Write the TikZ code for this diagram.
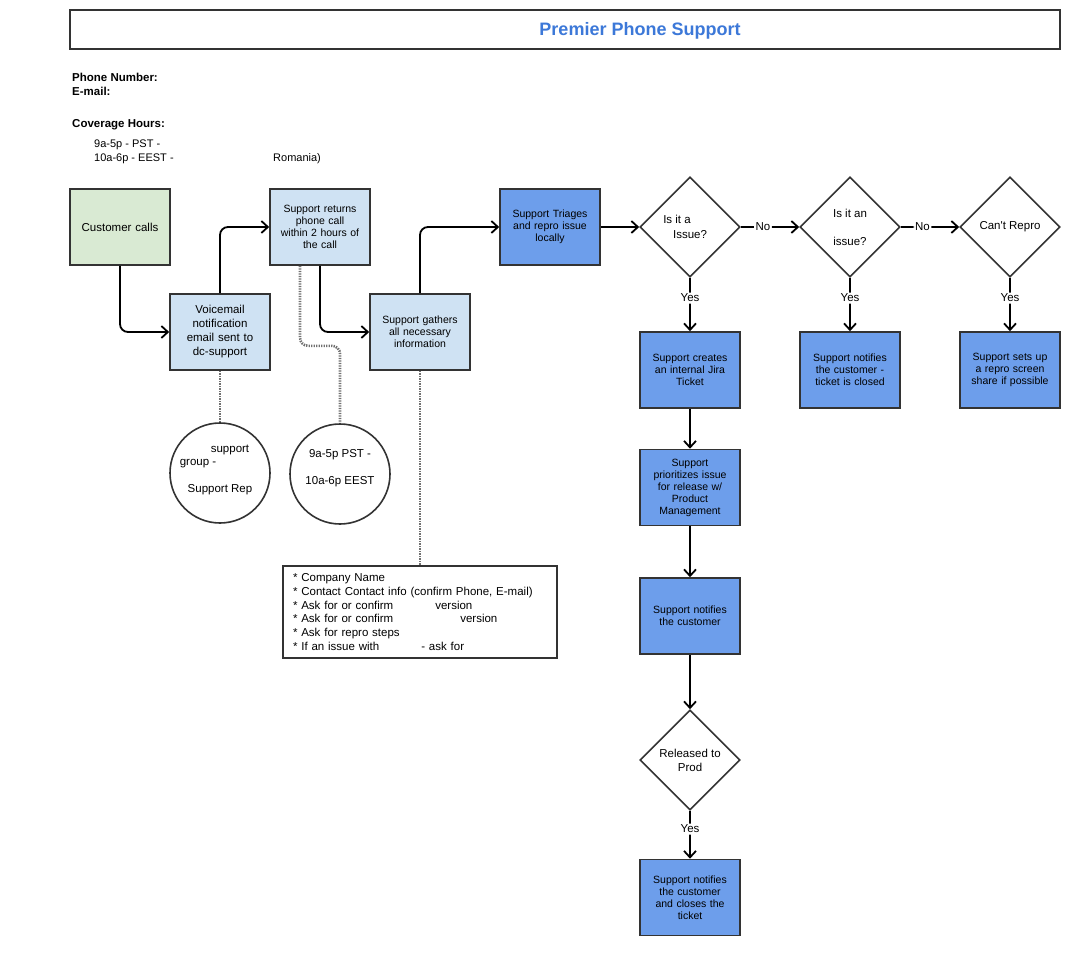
\documentclass[tikz,border=0pt]{standalone}
\usepackage{fontspec}
\setmainfont{Liberation Sans}
\usetikzlibrary{arrows.meta,shapes.geometric}

\definecolor{edge}{HTML}{333333}
\definecolor{startgreen}{HTML}{D9EAD3}
\definecolor{paleblue}{HTML}{CFE2F3}
\definecolor{midblue}{HTML}{6D9EEB}
\definecolor{titleblue}{HTML}{3C78D8}
\definecolor{noteline}{HTML}{707070}

\tikzset{
  box/.style={rectangle, draw=edge, line width=1.6pt, minimum width=100pt,
    minimum height=76pt, inner sep=2pt, text width=94pt, align=center,
    font=\fontsize{10.5}{12}\selectfont},
  bigtext/.style={font=\fontsize{11.5}{14}\selectfont},
  decision/.style={diamond, draw=edge, line width=1.6pt, fill=white,
    minimum width=100pt, minimum height=100pt, aspect=1, inner sep=0pt,
    align=center, font=\fontsize{11.5}{14}\selectfont},
  memo/.style={circle, draw=edge, line width=1.6pt, fill=white,
    minimum size=100pt, inner sep=0pt, align=center,
    font=\fontsize{11.5}{13.5}\selectfont},
  listbox/.style={rectangle, draw=edge, line width=1.6pt, fill=white,
    minimum width=274pt, minimum height=92pt, inner sep=0pt,
    text width=254pt, align=left, font=\fontsize{11.5}{13.8}\selectfont},
  flow/.style={draw=black, line width=1.8pt, rounded corners=8pt,
    -{Straight Barb[length=6.5pt,width=12pt]}},
  note/.style={draw=noteline, line width=2.6pt, dash pattern=on 1.4pt off 1.1pt,
    rounded corners=8pt},
  lbl/.style={fill=white, inner sep=1.5pt, font=\fontsize{11.5}{14}\selectfont},
  hdr/.style={anchor=west, inner sep=0pt, font=\bfseries\fontsize{11.5}{14}\selectfont},
  plain/.style={anchor=west, inner sep=0pt, font=\fontsize{11}{14}\selectfont},
}

\begin{document}
\begin{tikzpicture}[x=1pt,y=-1pt]
\useasboundingbox (0,0) rectangle (1086,955);

% title banner
\node[rectangle, draw=edge, line width=2pt, minimum width=990pt, minimum height=39pt,
      inner sep=0pt] (banner) at (565,29.5) {};
\node[inner sep=0pt, text=titleblue, font=\bfseries\fontsize{18}{21}\selectfont]
      (bannertext) at (640,31) {Premier Phone Support};

% contact details
\node[hdr] (phone) at (72,77) {Phone Number:};
\node[hdr] (mail) at (72,91) {E-mail:};
\node[hdr] (cover) at (72,125) {Coverage Hours:};
\node[plain] (pst) at (94,145) {9a-5p - PST -};
\node[plain] (eest) at (94,159) {10a-6p - EEST -};
\node[plain] (romania) at (273,159) {Romania)};

% intake path
\node[box, bigtext, fill=startgreen] (cust) at (120,227) {Customer calls};
\node[box, bigtext, fill=paleblue] (vm) at (220,332) {Voicemail\\notification\\email sent to\\dc-support};
\node[box, fill=paleblue] (ret) at (320,227) {Support returns\\phone call\\within 2 hours of\\the call};
\node[box, fill=paleblue] (gat) at (420,332) {Support gathers\\all necessary\\information};
\node[box, fill=midblue] (tri) at (550,227) {Support Triages\\and repro issue\\locally};

% decisions
\node[decision, font=\fontsize{11.5}{15}\selectfont] (q1) at (690,227) {Is it a\hspace*{26pt}\\Issue?};
\node[decision] (q2) at (850,227) {Is it an\\\mbox{}\\issue?};
\node[decision] (q3) at (1010,227) {Can\textquotesingle t Repro};

% outcomes
\node[box, fill=midblue] (jira) at (690,370) {Support creates\\an internal Jira\\Ticket};
\node[box, fill=midblue] (closed) at (850,370) {Support notifies\\the customer -\\ticket is closed};
\node[box, fill=midblue] (share) at (1010,370) {Support sets up\\a repro screen\\share if possible};
\node[box, fill=midblue] (prio) at (690,487.5) {Support\\prioritizes issue\\for release w/\\Product\\Management};
\node[box, fill=midblue] (notify) at (690,616) {Support notifies\\the customer};
\node[decision] (rel) at (690,760) {Released to\\Prod};
\node[box, fill=midblue] (done) at (690,897.5) {Support notifies\\the customer\\and closes the\\ticket};

% annotations
\node[memo] (grp) at (220,473) {};
\node[font=\fontsize{11.5}{13.5}\selectfont, align=center, inner sep=0pt] (grptext) at (220,470)
  {\hspace{20pt}\mbox{}support\\group -\hspace{44pt}\mbox{}\\\mbox{}\\Support Rep};
\node[memo] (hrs) at (340,474) {9a-5p PST -\\\mbox{}\\10a-6p EEST\\\mbox{}};
\node[listbox] (info) at (420,612) {%
  {*} Company Name\\
  {*} Contact Contact info (confirm Phone, E-mail)\\
  {*} Ask for or confirm\hspace{42pt}version\\
  {*} Ask for or confirm\hspace{67pt}version\\
  {*} Ask for repro steps\\
  {*} If an issue with\hspace{42pt}- ask for\hspace*{48pt}};

% main flow
\draw[flow] (cust.south) |- (vm.west);
\draw[flow] (vm.north) |- (ret.west);
\draw[flow] (ret.south) |- (gat.west);
\draw[flow] (gat.north) |- (tri.west);
\draw[flow] (tri.east) -- (q1.west);
\draw[flow] (q1.east) -- node[lbl, pos=0.38] {No} (q2.west);
\draw[flow] (q2.east) -- node[lbl, pos=0.37] {No} (q3.west);
\draw[flow] (q1.south) -- node[lbl, pos=0.38] {Yes} (jira.north);
\draw[flow] (q2.south) -- node[lbl, pos=0.38] {Yes} (closed.north);
\draw[flow] (q3.south) -- node[lbl, pos=0.38] {Yes} (share.north);
\draw[flow] (jira.south) -- (prio.north);
\draw[flow] (prio.south) -- (notify.north);
\draw[flow] (notify.south) -- (rel.north);
\draw[flow] (rel.south) -- node[lbl, pos=0.38] {Yes} (done.north);

% dotted annotation links
\draw[note] (vm.south) -- (grp.north);
\draw[note] ([xshift=-20pt]ret.south) -- ++(0,80) -| (hrs.north);
\draw[note] (gat.south) -- (info.north);
\end{tikzpicture}
\end{document}
